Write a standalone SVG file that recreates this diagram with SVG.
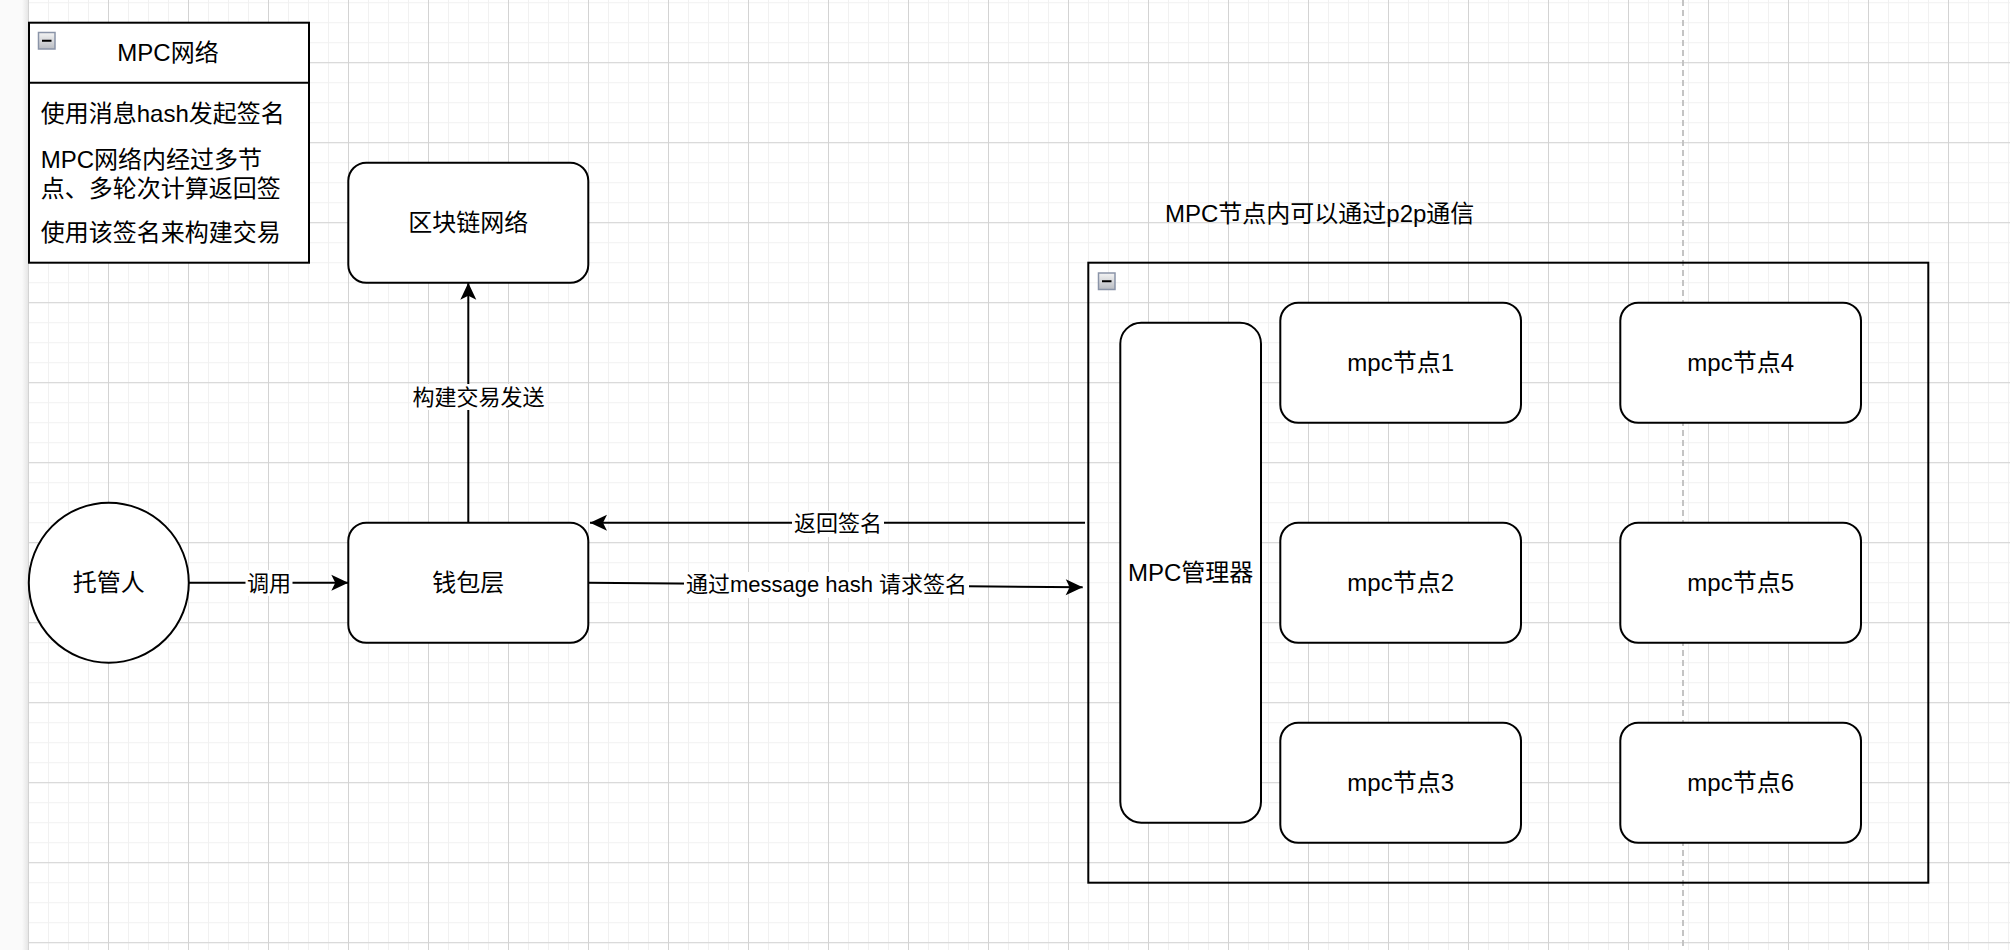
<svg xmlns="http://www.w3.org/2000/svg" width="2010" height="950" viewBox="0 0 2010 950">
<defs>
<pattern id="gMinor" patternUnits="userSpaceOnUse" x="28" y="2.2" width="20" height="20">
<rect x="0" y="0" width="20" height="1" fill="#f1f1f1"/>
<rect x="0" y="0" width="1" height="20" fill="#f1f1f1"/>
</pattern>
<pattern id="gMajor" patternUnits="userSpaceOnUse" x="28" y="62.2" width="80" height="80">
<rect x="0" y="0" width="80" height="1" fill="#d3d3d3"/>
<rect x="0" y="0" width="1" height="80" fill="#d3d3d3"/>
</pattern>
<linearGradient id="shadow" x1="0" y1="0" x2="1" y2="0">
<stop offset="0" stop-color="#fafafa"/>
<stop offset="1" stop-color="#e6e6e6"/>
</linearGradient>
<linearGradient id="iconFill" x1="0" y1="0" x2="0" y2="1">
<stop offset="0" stop-color="#f4f4f4"/>
<stop offset="1" stop-color="#b9bcc2"/>
</linearGradient>
<marker id="arrow" markerUnits="userSpaceOnUse" markerWidth="20" markerHeight="18" refX="17" refY="8" orient="auto" overflow="visible">
<path d="M0,0 L17,8 L0,16 L4,8 Z" fill="#000"/>
</marker>
</defs>
<style>
.node{fill:#fff;stroke:#000;stroke-width:2}
.edge{fill:none;stroke:#000;stroke-width:2}
.t{font-family:"Liberation Sans","Noto Sans CJK SC",sans-serif;font-size:24px;fill:#000}
.el{font-family:"Liberation Sans","Noto Sans CJK SC",sans-serif;font-size:22px;fill:#000;text-anchor:middle}
.c{text-anchor:middle}
.lbg{fill:#fff}
.icon{fill:url(#iconFill);stroke:#8a94a8;stroke-width:1.5}
</style>
<!-- background -->
<rect x="0" y="0" width="2010" height="950" fill="#fff"/>
<rect x="0" y="0" width="28" height="950" fill="#fafafa"/>
<rect x="22" y="0" width="6" height="950" fill="url(#shadow)"/>
<rect x="28" y="0" width="1982" height="950" fill="url(#gMinor)"/>
<rect x="28" y="0" width="1982" height="950" fill="url(#gMajor)"/>
<line x1="1683" y1="0" x2="1683" y2="950" stroke="#c4c4c4" stroke-width="2" stroke-dasharray="6 4"/>

<!-- MPC网络 list -->
<g id="mpc-network-list">
<rect class="node" x="29" y="22.7" width="280" height="240"/>
<line class="edge" x1="29" y1="82.7" x2="309" y2="82.7"/>
<rect class="icon" x="38.5" y="32.5" width="16.5" height="16.5"/>
<line x1="42" y1="40.75" x2="51.5" y2="40.75" stroke="#000" stroke-width="2"/>
<text class="t c" x="168" y="61.2">MPC网络</text>
<text class="t" x="40.7" y="121.5">使用消息hash发起签名</text>
<text class="t" x="40.7" y="168.3">MPC网络内经过多节</text>
<text class="t" x="40.7" y="197.1">点、多轮次计算返回签</text>
<text class="t" x="40.7" y="240.5">使用该签名来构建交易</text>
</g>

<!-- 区块链网络 -->
<g id="blockchain">
<rect class="node" x="348.3" y="162.7" width="240" height="120" rx="18" ry="18"/>
<text class="t c" x="468.3" y="231.2">区块链网络</text>
</g>

<!-- 托管人 -->
<g id="custodian">
<circle class="node" cx="108.8" cy="582.7" r="80"/>
<text class="t c" x="108.8" y="591.2">托管人</text>
</g>

<!-- 钱包层 -->
<g id="wallet">
<rect class="node" x="348.3" y="522.7" width="240" height="120" rx="18" ry="18"/>
<text class="t c" x="468.3" y="591.2">钱包层</text>
</g>

<!-- p2p label -->
<g id="p2p-label">
<text class="t c" x="1319.7" y="221.7">MPC节点内可以通过p2p通信</text>
</g>

<!-- MPC container -->
<g id="mpc-container">
<rect x="1088.3" y="262.7" width="840" height="620" fill="none" stroke="#000" stroke-width="2"/>
<rect class="icon" x="1098.5" y="273" width="16.5" height="16.5"/>
<line x1="1102" y1="281.25" x2="1111.5" y2="281.25" stroke="#000" stroke-width="2"/>
</g>

<g id="mpc-manager">
<rect class="node" x="1120.3" y="322.7" width="140.7" height="500" rx="21" ry="21"/>
<text class="t c" x="1190.7" y="581.2">MPC管理器</text>
</g>
<g id="mpc-node1">
<rect class="node" x="1280.3" y="302.7" width="240.7" height="120" rx="18" ry="18"/>
<text class="t c" x="1400.7" y="371.2">mpc节点1</text>
</g>
<g id="mpc-node2">
<rect class="node" x="1280.3" y="522.7" width="240.7" height="120" rx="18" ry="18"/>
<text class="t c" x="1400.7" y="591.2">mpc节点2</text>
</g>
<g id="mpc-node3">
<rect class="node" x="1280.3" y="722.7" width="240.7" height="120" rx="18" ry="18"/>
<text class="t c" x="1400.7" y="791.2">mpc节点3</text>
</g>
<g id="mpc-node4">
<rect class="node" x="1620.3" y="302.7" width="240.7" height="120" rx="18" ry="18"/>
<text class="t c" x="1740.7" y="371.2">mpc节点4</text>
</g>
<g id="mpc-node5">
<rect class="node" x="1620.3" y="522.7" width="240.7" height="120" rx="18" ry="18"/>
<text class="t c" x="1740.7" y="591.2">mpc节点5</text>
</g>
<g id="mpc-node6">
<rect class="node" x="1620.3" y="722.7" width="240.7" height="120" rx="18" ry="18"/>
<text class="t c" x="1740.7" y="791.2">mpc节点6</text>
</g>

<!-- connectors -->
<g id="connectors">
<line class="edge" x1="189" y1="582.7" x2="348.3" y2="582.7" marker-end="url(#arrow)"/>
<rect class="lbg" x="245.5" y="570" width="47" height="26"/>
<text class="el" x="269" y="590.5">调用</text>

<line class="edge" x1="468.3" y1="522.7" x2="468.3" y2="282.7" marker-end="url(#arrow)"/>
<rect class="lbg" x="411" y="384" width="135" height="26"/>
<text class="el" x="478.5" y="404.5">构建交易发送</text>

<line class="edge" x1="1085" y1="522.7" x2="590" y2="522.7" marker-end="url(#arrow)"/>
<rect class="lbg" x="792" y="511" width="92" height="26"/>
<text class="el" x="838" y="531">返回签名</text>

<line class="edge" x1="588.3" y1="582.7" x2="1082.7" y2="587.3" marker-end="url(#arrow)"/>
<rect class="lbg" x="684" y="572" width="285" height="26"/>
<text class="el" x="826.5" y="591.5">通过message hash 请求签名</text>
</g>
</svg>
